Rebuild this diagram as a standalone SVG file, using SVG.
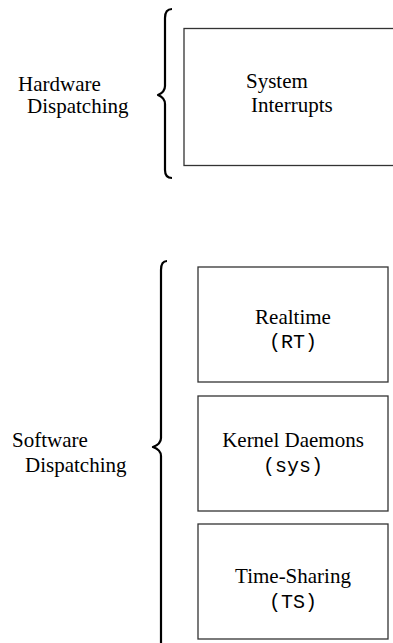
<svg xmlns="http://www.w3.org/2000/svg" width="393" height="643" viewBox="0 0 393 643">
<style>
.box{fill:#fff;stroke:#333;stroke-width:1.3}
.brace{fill:none;stroke:#000;stroke-width:2.2;stroke-linecap:butt;stroke-linejoin:round}
.t{font-family:"Liberation Serif","Times New Roman",serif;font-size:21px;fill:#000}
.m{font-family:"Liberation Mono","Courier New",monospace;font-size:20px;fill:#000}
.c{text-anchor:middle}
</style>
<rect width="393" height="643" fill="#fff"/>
<g id="connectors">
<path id="brace-hw" class="brace" d="M172,9 Q165,9 165,18 L165,86 Q165,92 158,95 Q165,98 165,104 L165,170 Q165,178 172,178"/>
<path id="brace-sw" class="brace" d="M167,261 Q161,261 161,270 L161,438 Q161,444 153,447 Q161,450 161,456 L161,643"/>
</g>
<g id="label-hw">
<text class="t" x="18" y="91">Hardware</text>
<text class="t" x="27" y="113">Dispatching</text>
</g>
<g id="label-sw">
<text class="t" x="12" y="447">Software</text>
<text class="t" x="25" y="472">Dispatching</text>
</g>
<g id="sysint">
<rect class="box" x="184" y="28.5" width="215" height="137"/>
<text class="t" x="246" y="88">System</text>
<text class="t" x="251" y="112">Interrupts</text>
</g>
<g id="rt">
<rect class="box" x="198" y="267" width="190" height="115"/>
<text class="t c" x="293" y="324">Realtime</text>
<text class="m c" x="293" y="348">(RT)</text>
</g>
<g id="sys">
<rect class="box" x="198" y="396" width="190" height="115"/>
<text class="t c" x="293" y="447">Kernel Daemons</text>
<text class="m c" x="293" y="472">(sys)</text>
</g>
<g id="ts">
<rect class="box" x="198" y="524" width="190" height="115"/>
<text class="t c" x="293" y="583">Time-Sharing</text>
<text class="m c" x="293" y="608">(TS)</text>
</g>
</svg>
